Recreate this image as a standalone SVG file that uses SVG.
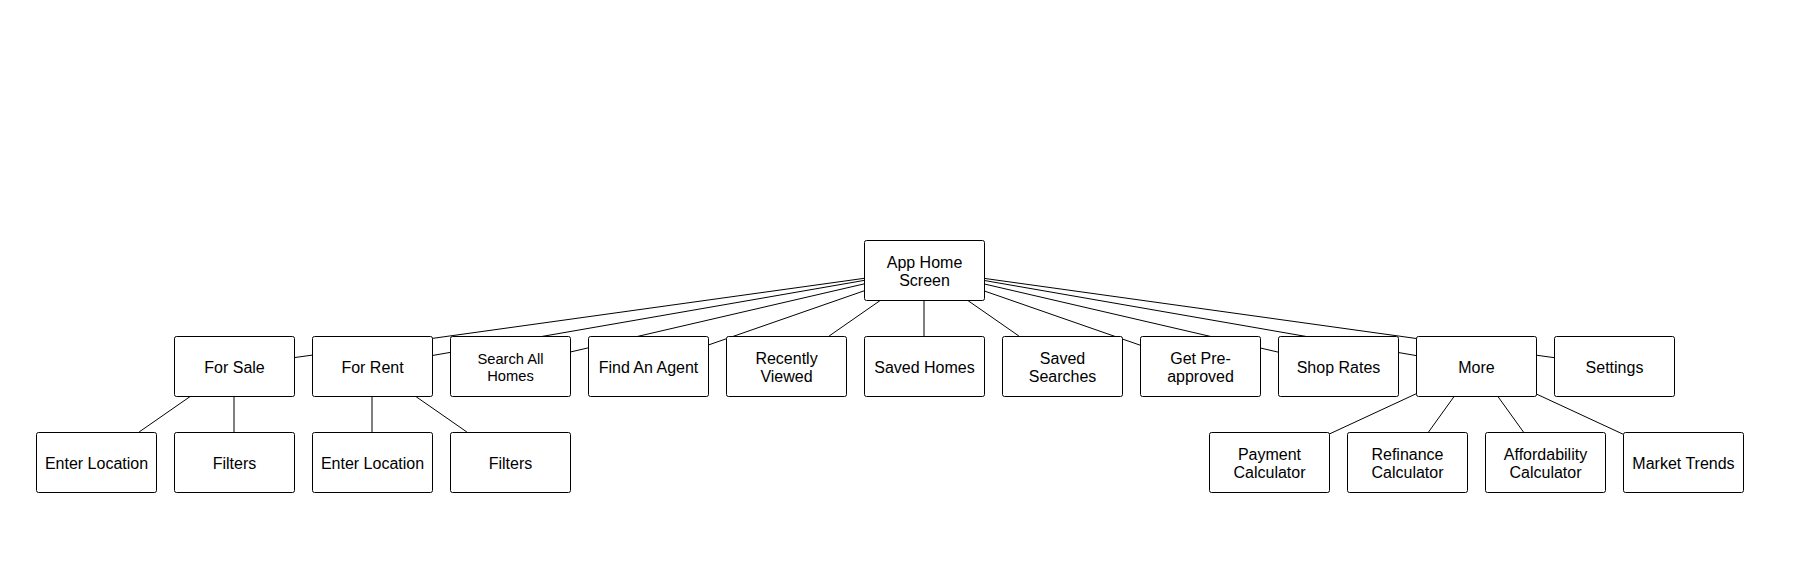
<svg xmlns="http://www.w3.org/2000/svg" width="1815" height="565" viewBox="0 0 1815 565">
<style>
.node rect{fill:#ffffff;stroke:#000000;stroke-width:1}
.node text{font-family:"Liberation Sans",Arial,Helvetica,sans-serif;font-size:16px;fill:#000000;text-anchor:middle}
.node text.sm{font-size:14.7px}
#connectors line{stroke:#000000;stroke-width:1;fill:none}
</style>
<rect x="0" y="0" width="1815" height="565" fill="#ffffff"/>
<g id="connectors">
<line x1="864" y1="278.35" x2="294" y2="357.65"/>
<line x1="864" y1="280.43" x2="432" y2="355.57"/>
<line x1="864" y1="283.91" x2="570" y2="352.09"/>
<line x1="864" y1="290.87" x2="708" y2="345.13"/>
<line x1="880.88" y1="300" x2="829.13" y2="336"/>
<line x1="924" y1="300" x2="924" y2="336"/>
<line x1="967.13" y1="300" x2="1018.88" y2="336"/>
<line x1="984" y1="290.87" x2="1140" y2="345.13"/>
<line x1="984" y1="283.91" x2="1278" y2="352.09"/>
<line x1="984" y1="280.43" x2="1416" y2="355.57"/>
<line x1="984" y1="278.35" x2="1554" y2="357.65"/>
<line x1="190.88" y1="396" x2="139.13" y2="432"/>
<line x1="234" y1="396" x2="234" y2="432"/>
<line x1="372" y1="396" x2="372" y2="432"/>
<line x1="415.13" y1="396" x2="466.88" y2="432"/>
<line x1="1416" y1="393.83" x2="1329" y2="434.17"/>
<line x1="1454.44" y1="396" x2="1428.56" y2="432"/>
<line x1="1497.56" y1="396" x2="1523.44" y2="432"/>
<line x1="1536" y1="393.83" x2="1623" y2="434.17"/>
</g>
<g id="app-home" class="node"><rect x="864.5" y="240.5" width="120" height="60" rx="2"/><text x="924.5" y="268">App Home</text><text x="924.5" y="286">Screen</text></g>
<g id="for-sale" class="node"><rect x="174.5" y="336.5" width="120" height="60" rx="2"/><text x="234.5" y="372.5">For Sale</text></g>
<g id="for-rent" class="node"><rect x="312.5" y="336.5" width="120" height="60" rx="2"/><text x="372.5" y="372.5">For Rent</text></g>
<g id="search-all-homes" class="node"><rect x="450.5" y="336.5" width="120" height="60" rx="2"/><text class="sm" x="510.5" y="364.3">Search All</text><text class="sm" x="510.5" y="381">Homes</text></g>
<g id="find-an-agent" class="node"><rect x="588.5" y="336.5" width="120" height="60" rx="2"/><text x="648.5" y="372.5">Find An Agent</text></g>
<g id="recently-viewed" class="node"><rect x="726.5" y="336.5" width="120" height="60" rx="2"/><text x="786.5" y="364.3">Recently</text><text x="786.5" y="382.3">Viewed</text></g>
<g id="saved-homes" class="node"><rect x="864.5" y="336.5" width="120" height="60" rx="2"/><text x="924.5" y="372.5">Saved Homes</text></g>
<g id="saved-searches" class="node"><rect x="1002.5" y="336.5" width="120" height="60" rx="2"/><text x="1062.5" y="364.3">Saved</text><text x="1062.5" y="382.3">Searches</text></g>
<g id="get-pre-approved" class="node"><rect x="1140.5" y="336.5" width="120" height="60" rx="2"/><text x="1200.5" y="364.3">Get Pre-</text><text x="1200.5" y="382.3">approved</text></g>
<g id="shop-rates" class="node"><rect x="1278.5" y="336.5" width="120" height="60" rx="2"/><text x="1338.5" y="372.5">Shop Rates</text></g>
<g id="more" class="node"><rect x="1416.5" y="336.5" width="120" height="60" rx="2"/><text x="1476.5" y="372.5">More</text></g>
<g id="settings" class="node"><rect x="1554.5" y="336.5" width="120" height="60" rx="2"/><text x="1614.5" y="372.5">Settings</text></g>
<g id="enter-location-sale" class="node"><rect x="36.5" y="432.5" width="120" height="60" rx="2"/><text x="96.5" y="468.5">Enter Location</text></g>
<g id="filters-sale" class="node"><rect x="174.5" y="432.5" width="120" height="60" rx="2"/><text x="234.5" y="468.5">Filters</text></g>
<g id="enter-location-rent" class="node"><rect x="312.5" y="432.5" width="120" height="60" rx="2"/><text x="372.5" y="468.5">Enter Location</text></g>
<g id="filters-rent" class="node"><rect x="450.5" y="432.5" width="120" height="60" rx="2"/><text x="510.5" y="468.5">Filters</text></g>
<g id="payment-calculator" class="node"><rect x="1209.5" y="432.5" width="120" height="60" rx="2"/><text x="1269.5" y="460.3">Payment</text><text x="1269.5" y="478.3">Calculator</text></g>
<g id="refinance-calculator" class="node"><rect x="1347.5" y="432.5" width="120" height="60" rx="2"/><text x="1407.5" y="460.3">Refinance</text><text x="1407.5" y="478.3">Calculator</text></g>
<g id="affordability-calculator" class="node"><rect x="1485.5" y="432.5" width="120" height="60" rx="2"/><text x="1545.5" y="460.3">Affordability</text><text x="1545.5" y="478.3">Calculator</text></g>
<g id="market-trends" class="node"><rect x="1623.5" y="432.5" width="120" height="60" rx="2"/><text x="1683.5" y="468.5">Market Trends</text></g>
</svg>
